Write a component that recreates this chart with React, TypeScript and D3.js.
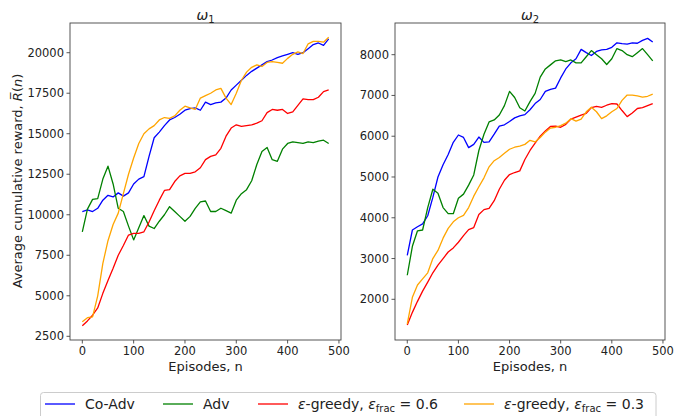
import React from 'react';
import * as d3 from 'd3';

// episodes sampled every 10
const episodes = d3.range(0, 481, 10);

// omega_1 panel
const w1CoAdv = [10200, 10300, 10200, 10400, 10900, 11200, 11100, 11350, 11150, 11350, 11900, 12200, 12350, 13600, 14750, 15100, 15500, 15850, 16000, 16200, 16450, 16550, 16600, 16450, 16950, 16800, 16900, 16950, 17200, 17700, 18000, 18300, 18600, 18850, 19050, 19250, 19450, 19550, 19700, 19800, 19900, 20000, 19900, 20000, 20250, 20500, 20600, 20450, 20850];
const w1Adv = [8950, 10350, 10950, 11000, 12200, 13000, 11900, 10400, 10200, 9300, 8450, 9200, 9950, 9300, 9150, 9600, 10000, 10500, 10200, 9900, 9600, 9900, 10400, 10800, 10850, 10200, 10200, 10400, 10250, 10100, 10900, 11300, 11550, 12100, 13100, 13900, 14150, 13400, 13300, 14050, 14400, 14500, 14450, 14400, 14500, 14450, 14550, 14600, 14400];
const w1Greedy06 = [3150, 3450, 3800, 4250, 5150, 5950, 6700, 7500, 8100, 8750, 8850, 8850, 8950, 9550, 10250, 10900, 11500, 11550, 12050, 12400, 12550, 12550, 12650, 12900, 13400, 13600, 13700, 14100, 14850, 15350, 15550, 15450, 15500, 15550, 15650, 15800, 16300, 16500, 16450, 16500, 16250, 16350, 16750, 17150, 17100, 17100, 17250, 17600, 17700];
const w1Greedy03 = [3400, 3650, 3700, 5000, 7000, 8400, 9400, 10100, 11300, 12500, 13500, 14400, 15000, 15300, 15500, 15850, 16000, 15950, 16100, 16450, 16700, 16600, 16500, 17200, 17350, 17500, 17700, 17800, 17200, 16800, 17500, 18300, 18800, 19100, 19250, 19150, 19400, 19450, 19400, 19350, 19650, 19900, 20050, 19950, 20550, 20700, 20700, 20650, 20950];

// omega_2 panel
const w2CoAdv = [3080, 3700, 3780, 3850, 4050, 4500, 5000, 5300, 5550, 5850, 6030, 5970, 5720, 5800, 5980, 5850, 5860, 6050, 6250, 6280, 6360, 6450, 6500, 6530, 6650, 6800, 6900, 7100, 7150, 7180, 7430, 7650, 7800, 7900, 8130, 8050, 7980, 8080, 8120, 8130, 8180, 8290, 8270, 8260, 8290, 8280, 8350, 8400, 8310];
const w2Adv = [2590, 3300, 3680, 3700, 4250, 4700, 4600, 4250, 4100, 4100, 4480, 4580, 4800, 5050, 5650, 6050, 6350, 6400, 6520, 6750, 7100, 6950, 6700, 6620, 6850, 7050, 7450, 7650, 7750, 7850, 7870, 7830, 7870, 7800, 7800, 7950, 8100, 8000, 7900, 7760, 7900, 8150, 8100, 8000, 7950, 8050, 8150, 8000, 7850];
const w2Greedy06 = [1370, 1680, 1950, 2200, 2420, 2650, 2840, 3000, 3160, 3260, 3400, 3560, 3710, 3760, 4080, 4200, 4230, 4420, 4700, 4920, 5060, 5110, 5150, 5430, 5650, 5830, 6000, 6130, 6240, 6250, 6220, 6290, 6420, 6470, 6520, 6560, 6700, 6730, 6710, 6760, 6800, 6790, 6630, 6480, 6570, 6680, 6700, 6750, 6800];
const w2Greedy03 = [1400, 2050, 2350, 2500, 2650, 3000, 3200, 3500, 3740, 3900, 4000, 4060, 4250, 4530, 4760, 4980, 5250, 5400, 5480, 5580, 5680, 5730, 5760, 5800, 5900, 5860, 5970, 6100, 6200, 6220, 6260, 6320, 6430, 6370, 6420, 6600, 6710, 6600, 6430, 6500, 6600, 6680, 6880, 7010, 7010, 6990, 6960, 6980, 7030];

const xTicks = [0, 100, 200, 300, 400, 500];
const w1YTicks = [2500, 5000, 7500, 10000, 12500, 15000, 17500, 20000];
const w2YTicks = [2000, 3000, 4000, 5000, 6000, 7000, 8000];

const colors = ['blue', 'green', 'red', 'orange'];
const FONT = 'DejaVu Sans, sans-serif';

function Panel({ left, right, top, bottom, yDomain, yTicks, series, sub }) {
  const x = d3.scaleLinear().domain([-24, 504]).range([left, right]);
  const y = d3.scaleLinear().domain(yDomain).range([bottom, top]);
  const line = d3.line<number>().x((d, i) => x(episodes[i])).y(d => y(d));
  return (
    <g>
      {series.map((s, i) => (
        <path key={i} d={line(s) || ''} fill="none" stroke={colors[i]} strokeWidth={1.3} strokeLinejoin="round" />
      ))}
      <rect x={left} y={top} width={right - left} height={bottom - top} fill="none" stroke="#444" strokeWidth={0.9} />
      {xTicks.map(t => (
        <g key={t}>
          <line x1={x(t)} x2={x(t)} y1={bottom} y2={bottom + 3.5} stroke="#444" strokeWidth={0.9} />
          <text x={x(t)} y={bottom + 15} textAnchor="middle" fontSize={11.5} fill="#222">{t}</text>
        </g>
      ))}
      {yTicks.map(t => (
        <g key={t}>
          <line x1={left - 3.5} x2={left} y1={y(t)} y2={y(t)} stroke="#444" strokeWidth={0.9} />
          <text x={left - 6} y={y(t) + 4} textAnchor="end" fontSize={11.5} fill="#222">{t}</text>
        </g>
      ))}
      <text x={(left + right) / 2} y={20} textAnchor="middle" fontSize={14} fill="#222">
        <tspan fontStyle="italic">ω</tspan>
        <tspan fontSize={10} dy={3}>{sub}</tspan>
      </text>
      <text x={(left + right) / 2} y={bottom + 31} textAnchor="middle" fontSize={13} fill="#222">Episodes, n</text>
    </g>
  );
}

function LegendItem({ x, color, children }) {
  return (
    <g>
      <line x1={x} x2={x + 30} y1={404} y2={404} stroke={color} strokeWidth={1.3} />
      <text x={x + 40} y={409} fontSize={14} fill="#222">{children}</text>
    </g>
  );
}

export default function App() {
  return (
    <svg width={675} height={416} style={{ position: 'absolute', left: 0, top: 0, fontFamily: FONT }}>
      <rect width={675} height={416} fill="white" />
      <Panel left={70} right={341} top={23} bottom={340} yDomain={[2272, 21833]} yTicks={w1YTicks}
        series={[w1CoAdv, w1Adv, w1Greedy06, w1Greedy03]} sub="1" />
      <Panel left={395} right={665} top={23} bottom={340} yDomain={[1002, 8777]} yTicks={w2YTicks}
        series={[w2CoAdv, w2Adv, w2Greedy06, w2Greedy03]} sub="2" />
      <text transform="translate(22,181) rotate(-90)" textAnchor="middle" fontSize={13} fill="#222">
        Average cumulative reward, <tspan fontStyle="italic">R̅</tspan>(<tspan fontStyle="italic">n</tspan>)
      </text>
      <rect x={40.5} y={392.5} width={615.5} height={30} rx={3} fill="white" stroke="#ccc" strokeWidth={1} />
      <LegendItem x={45} color="blue">Co-Adv</LegendItem>
      <LegendItem x={163} color="green">Adv</LegendItem>
      <LegendItem x={258} color="red">
        <tspan fontStyle="italic">ε</tspan>-greedy, <tspan fontStyle="italic">ε</tspan>
        <tspan fontSize={10} dy={3}>frac</tspan><tspan dy={-3}> = 0.6</tspan>
      </LegendItem>
      <LegendItem x={464} color="orange">
        <tspan fontStyle="italic">ε</tspan>-greedy, <tspan fontStyle="italic">ε</tspan>
        <tspan fontSize={10} dy={3}>frac</tspan><tspan dy={-3}> = 0.3</tspan>
      </LegendItem>
    </svg>
  );
}
